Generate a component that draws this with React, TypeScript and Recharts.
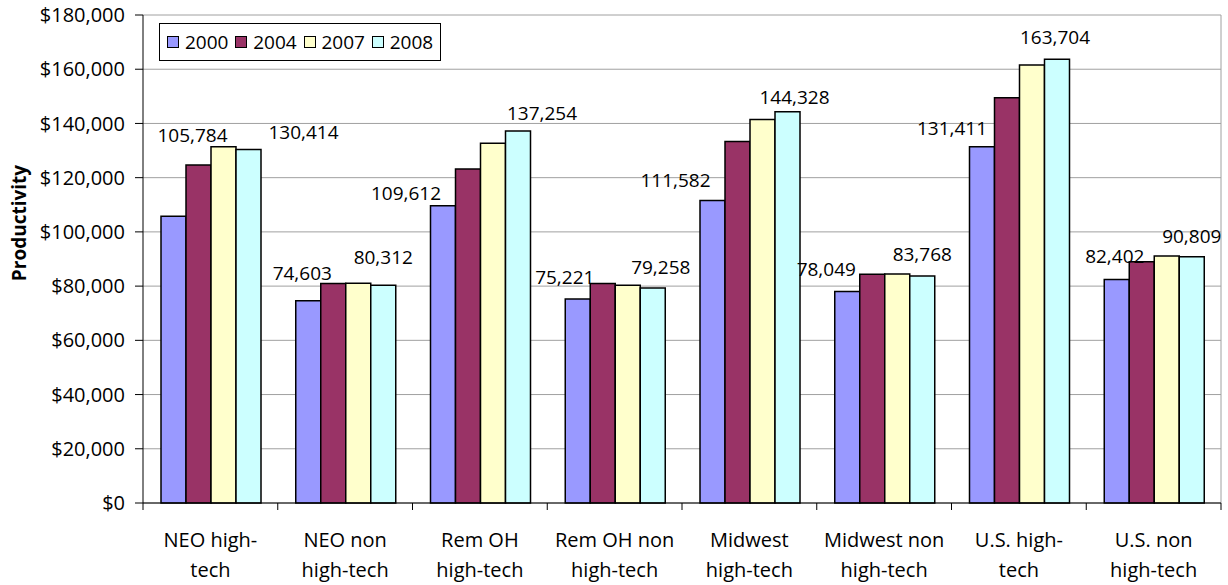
import React from "react"
import { BarChart, Bar, XAxis, YAxis, CartesianGrid, LabelList } from "recharts"

const categories = [
  "NEO high-tech",
  "NEO non high-tech",
  "Rem OH high-tech",
  "Rem OH non high-tech",
  "Midwest high-tech",
  "Midwest non high-tech",
  "U.S. high-tech",
  "U.S. non high-tech",
]

// how Excel wrapped the category names
const tickLines = [
  ["NEO high-", "tech"],
  ["NEO non", "high-tech"],
  ["Rem OH", "high-tech"],
  ["Rem OH non", "high-tech"],
  ["Midwest", "high-tech"],
  ["Midwest non", "high-tech"],
  ["U.S. high-", "tech"],
  ["U.S. non", "high-tech"],
]

const years = ["2000", "2004", "2007", "2008"]

const v2000 = [105784, 74603, 109612, 75221, 111582, 78049, 131411, 82402]
const v2004 = [124700, 81000, 123200, 81000, 133300, 84400, 149500, 89000]
const v2007 = [131400, 81100, 132700, 80300, 141500, 84500, 161600, 91100]
const v2008 = [130414, 80312, 137254, 79258, 144328, 83768, 163704, 90809]

const yTicks = [0, 20000, 40000, 60000, 80000, 100000, 120000, 140000, 160000, 180000]

const colors = ["#9999FF", "#993366", "#FFFFCC", "#CCFFFF"]

// hand-dragged label nudges (dx, dy from bar top)
const nudge2000 = [[19, -81], [-6, -28], [-37, -13], [-13, -22], [-37, -20], [-21, -22], [-30, -19], [-2, -24]]
const nudge2008 = [[55, -17], [0, -28], [24, -18], [8, -21], [7, -15], [0, -22], [-2, -22], [0, -21]]

const data = categories.map((name, i) => ({
  name,
  y2000: v2000[i],
  y2004: v2004[i],
  y2007: v2007[i],
  y2008: v2008[i],
}))

const FONT = "'Open Sans', sans-serif"

const makeLabel = (nudges: number[][]) => (props: any) => {
  const { x, y, width, value, index } = props
  const [dx, dy] = nudges[index]
  return (
    <text
      x={Number(x) + Number(width) / 2 + dx}
      y={Number(y) + dy}
      textAnchor="middle"
      dominantBaseline="central"
      fontSize={19}
      fontFamily={FONT}
      fill="#000"
    >
      {Number(value).toLocaleString("en-US")}
    </text>
  )
}

// category label plus the Excel-style tick marks between categories
const CategoryTick = (props: any) => {
  const { x, y, payload, width, visibleTicksCount } = props
  const lines = tickLines[payload.index] || [String(payload.value)]
  const n = Number(visibleTicksCount) || categories.length
  const half = Number(width) / n / 2
  const axisY = y
  const marks: number[] = [x - half]
  if (payload.index === n - 1) marks.push(x + half)
  return (
    <g>
      {Number.isFinite(half) &&
        marks.map((mx, i) => (
          <line key={i} x1={mx} x2={mx} y1={axisY} y2={axisY + 7} stroke="#000" strokeWidth={1} />
        ))}
      <text textAnchor="middle" fontSize={20} fontFamily={FONT} fill="#000">
        {lines.map((l, i) => (
          <tspan key={i} x={x} y={axisY + 44 + i * 30}>
            {l}
          </tspan>
        ))}
      </text>
    </g>
  )
}

const LegendBox = () => (
  <div
    style={{
      position: "absolute",
      left: 159,
      top: 23,
      display: "flex",
      alignItems: "center",
      boxSizing: "border-box",
      width: 282,
      height: 38,
      border: "1px solid #000",
      background: "#fff",
      paddingLeft: 7,
      fontFamily: FONT,
      fontSize: 19,
    }}
  >
    {years.map((yr, i) => (
      <div key={yr} style={{ display: "flex", alignItems: "center", width: 68.5 }}>
        <span
          style={{
            display: "inline-block",
            width: 10,
            height: 10,
            background: colors[i],
            border: "1px solid #000",
            marginRight: 6,
          }}
        />
        <span>{yr}</span>
      </div>
    ))}
  </div>
)

export default function App() {
  return (
    <div style={{ position: "absolute", left: 0, top: 0, width: 1228, height: 585, background: "#fff" }}>
      <BarChart
        width={1228}
        height={585}
        data={data}
        margin={{ top: 15, right: 7, left: 0, bottom: 0 }}
        barCategoryGap={18}
        barGap={0}
      >
        <CartesianGrid
          stroke="#a0a0a0"
          vertical={true}
          verticalCoordinatesGenerator={({ offset }: any) => [offset.left + offset.width]}
        />
        <XAxis
          dataKey="name"
          height={82}
          axisLine={{ stroke: "#000" }}
          tickLine={false}
          tickSize={0}
          tickMargin={0}
          tick={<CategoryTick />}
          interval={0}
        />
        <YAxis
          width={143}
          domain={[0, 180000]}
          ticks={yTicks}
          interval={0}
          axisLine={{ stroke: "#000" }}
          tickLine={{ stroke: "#000" }}
          tickSize={8}
          tickMargin={10}
          tick={{ fill: "#000", fontSize: 20, fontFamily: FONT }}
          tickFormatter={(v: number) => "$" + v.toLocaleString("en-US")}
          label={(p: any) => {
            const vb = p.viewBox || {}
            const cx = vb.x + 19
            const cy = 223
            return (
              <text
                x={cx}
                y={cy}
                transform={`rotate(-90 ${cx} ${cy})`}
                textAnchor="middle"
                dominantBaseline="central"
                fontSize={19}
                fontWeight="bold"
                fontFamily={FONT}
                fill="#000"
              >
                Productivity
              </text>
            )
          }}
        />
        <Bar dataKey="y2000" name="2000" fill={colors[0]} stroke="#000" strokeWidth={1.5} isAnimationActive={false}>
          <LabelList dataKey="y2000" content={makeLabel(nudge2000)} />
        </Bar>
        <Bar dataKey="y2004" name="2004" fill={colors[1]} stroke="#000" strokeWidth={1.5} isAnimationActive={false} />
        <Bar dataKey="y2007" name="2007" fill={colors[2]} stroke="#000" strokeWidth={1.5} isAnimationActive={false} />
        <Bar dataKey="y2008" name="2008" fill={colors[3]} stroke="#000" strokeWidth={1.5} isAnimationActive={false}>
          <LabelList dataKey="y2008" content={makeLabel(nudge2008)} />
        </Bar>
      </BarChart>
      <LegendBox />
    </div>
  )
}
